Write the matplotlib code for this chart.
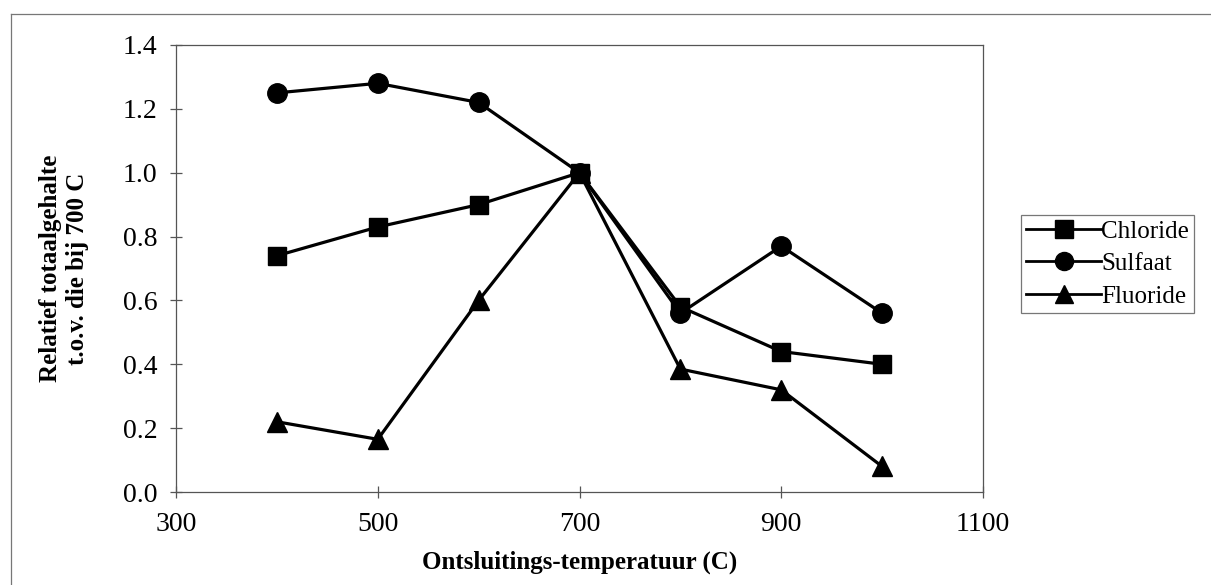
import matplotlib.pyplot as plt
from matplotlib.lines import Line2D

plt.rcParams['font.family'] = ['Liberation Serif', 'DejaVu Serif']

temp = [400, 500, 600, 700, 800, 900, 1000]
chloride = [0.74, 0.83, 0.90, 1.00, 0.58, 0.44, 0.40]
sulfaat = [1.25, 1.28, 1.22, 1.00, 0.56, 0.77, 0.56]
fluoride = [0.22, 0.165, 0.60, 1.00, 0.385, 0.32, 0.08]

W, H = 1211, 585
fig = plt.figure(figsize=(W / 100, H / 100), dpi=100)
ax = fig.add_axes([176 / W, 1 - 492 / H, (983 - 176) / W, (492 - 45) / H])

ax.plot(temp, chloride, color='black', lw=2.3, marker='s', ms=13.5, label='Chloride')
ax.plot(temp, sulfaat, color='black', lw=2.3, marker='o', ms=14, label='Sulfaat')
ax.plot(temp, fluoride, color='black', lw=2.3, marker='^', ms=15, label='Fluoride')

ax.set_xlim(300, 1100)
ax.set_ylim(0, 1.4)
ax.set_xticks([300, 500, 700, 900, 1100])
ax.set_yticks([0.0, 0.2, 0.4, 0.6, 0.8, 1.0, 1.2, 1.4])
ax.set_yticklabels(['%.1f' % v for v in ax.get_yticks()])
ax.tick_params(direction='inout', length=9, width=0.9, color='#555555', labelsize=20)
ax.tick_params(axis='x', pad=10)
ax.tick_params(axis='y', pad=9)
for sp in ax.spines.values():
    sp.set_color('#555555')
    sp.set_linewidth(0.9)

ax.set_xlabel('Ontsluitings-temperatuur (C)', fontsize=18, fontweight='bold', labelpad=10)
ax.set_ylabel('Relatief totaalgehalte\nt.o.v. die bij 700 C', fontsize=18,
              fontweight='bold', labelpad=24, linespacing=1.25)

leg = ax.legend(loc='center left', bbox_to_anchor=(1021 / W, 1 - 264 / H),
                bbox_transform=fig.transFigure, frameon=True, fancybox=False,
                fontsize=18, handlelength=3.0, handletextpad=0.0,
                borderpad=0.2, labelspacing=0.4, borderaxespad=0)
leg.get_frame().set_edgecolor('#555555')
leg.get_frame().set_linewidth(0.9)
for h in leg.legend_handles:
    h.set_markersize(13)
    h.set_linewidth(2.0)

# outer chart border (left and top edges)
fig.add_artist(Line2D([11 / W, 11 / W], [0, 1 - 14 / H], transform=fig.transFigure,
                      color='#777777', lw=0.9))
fig.add_artist(Line2D([11 / W, 1], [1 - 14 / H, 1 - 14 / H], transform=fig.transFigure,
                      color='#777777', lw=0.9))

fig.savefig('out.png', dpi=100)
